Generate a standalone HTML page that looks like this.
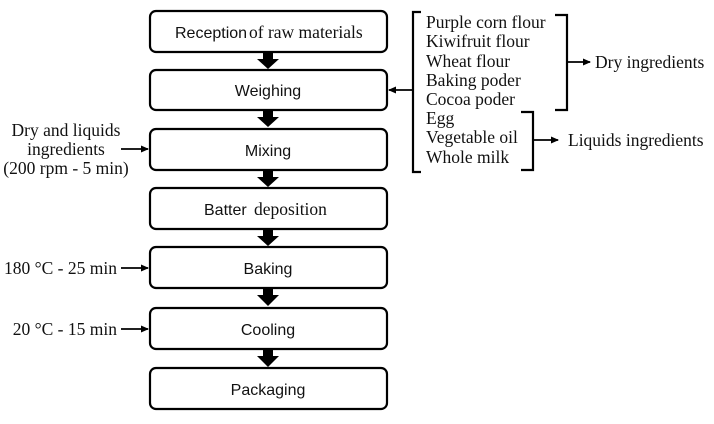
<!DOCTYPE html>
<html><head><style>
body{margin:0;background:#fff;width:714px;height:419px;overflow:hidden}
svg text{font-family:"Liberation Serif",serif;font-size:17.5px;fill:#111}
.s{font-family:"Liberation Sans",sans-serif !important;font-size:16px !important}
</style></head><body>
<svg width="714" height="419" viewBox="0 0 714 419">
<defs><marker id="a" markerWidth="8" markerHeight="8" refX="7" refY="4" orient="auto" markerUnits="userSpaceOnUse"><path d="M0,0.5 L8,4 L0,7.5z" fill="#000"/></marker></defs>
<g fill="none" stroke="#000" stroke-width="2.2">
<rect x="150" y="11" width="237" height="41" rx="6"/>
<rect x="150" y="70" width="237" height="40" rx="6"/>
<rect x="150" y="129" width="237" height="41" rx="6"/>
<rect x="150" y="188" width="237" height="41" rx="6"/>
<rect x="150" y="247" width="237" height="41" rx="6"/>
<rect x="150" y="308" width="237" height="41" rx="6"/>
<rect x="150" y="368" width="237" height="41" rx="6"/>
<path d="M421,12 H413 V172 H421"/>
<path d="M555,15 H567 V110 H555"/>
<path d="M521,112 H533 V170 H521"/>
</g>
<g fill="#000">
<path d="M263,53 h10 v6 h6 l-11,10 l-11,-10 h6z"/>
<path d="M263,111 h10 v6 h6 l-11,10 l-11,-10 h6z"/>
<path d="M263,171 h10 v6 h6 l-11,10 l-11,-10 h6z"/>
<path d="M263,230 h10 v6 h6 l-11,10 l-11,-10 h6z"/>
<path d="M263,289 h10 v6 h6 l-11,11 l-11,-11 h6z"/>
<path d="M263,350 h10 v6 h6 l-11,11 l-11,-11 h6z"/>
</g>
<g stroke="#000" stroke-width="1.8" marker-end="url(#a)">
<line x1="413" y1="90" x2="389" y2="90"/>
<line x1="567" y1="62" x2="590" y2="62"/>
<line x1="533" y1="140" x2="558" y2="140"/>
<line x1="121" y1="149" x2="148" y2="149"/>
<line x1="121" y1="268" x2="148" y2="268"/>
<line x1="121" y1="329" x2="148" y2="329"/>
</g>
<text x="175" y="38" class="s">Reception</text><text x="249" y="38">of raw materials</text>
<text x="268" y="96" class="s" text-anchor="middle">Weighing</text>
<text x="268" y="156" class="s" text-anchor="middle">Mixing</text>
<text x="204" y="215" class="s">Batter</text><text x="254" y="215">deposition</text>
<text x="268" y="274" class="s" text-anchor="middle">Baking</text>
<text x="268" y="335" class="s" text-anchor="middle">Cooling</text>
<text x="268" y="395" class="s" text-anchor="middle">Packaging</text>
<text x="426" y="28">Purple corn flour</text>
<text x="426" y="47">Kiwifruit flour</text>
<text x="426" y="67">Wheat flour</text>
<text x="426" y="86">Baking poder</text>
<text x="426" y="105">Cocoa poder</text>
<text x="426" y="124">Egg</text>
<text x="426" y="143">Vegetable oil</text>
<text x="426" y="163">Whole milk</text>
<text x="595" y="68">Dry ingredients</text>
<text x="568" y="146">Liquids ingredients</text>
<text x="66" y="136" text-anchor="middle">Dry and liquids</text>
<text x="66" y="155" text-anchor="middle">ingredients</text>
<text x="66" y="174" text-anchor="middle">(200 rpm - 5 min)</text>
<text x="117" y="274" text-anchor="end">180 °C - 25 min</text>
<text x="117" y="335" text-anchor="end">20 °C - 15 min</text>
</svg>
</body></html>
